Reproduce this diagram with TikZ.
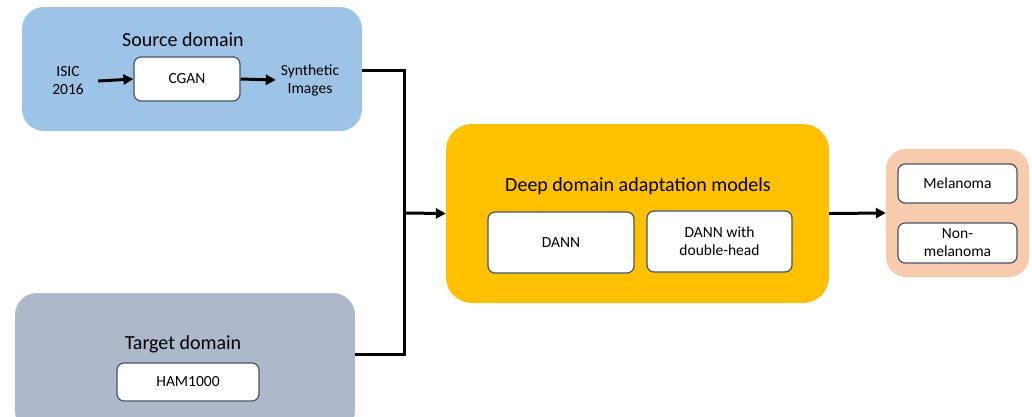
\documentclass[tikz,border=0pt]{standalone}
\usepackage{fontspec}
\setmainfont{Carlito}
\usetikzlibrary{arrows.meta}
\definecolor{srcblue}{HTML}{9DC3E6}
\definecolor{tgtgray}{HTML}{ADB9CA}
\definecolor{modelgold}{HTML}{FFC000}
\definecolor{outpeach}{HTML}{F8CBAD}
\definecolor{edgeslate}{HTML}{44546A}
\tikzset{
  panel/.style={rounded corners=22pt, draw=none, inner sep=0pt},
  inbox/.style={rounded corners=7pt, draw=edgeslate, line width=1.2pt, fill=white,
    align=center, inner sep=0pt, font=\fontsize{15.5}{18}\selectfont},
  title/.style={font=\fontsize{20}{24}\selectfont, inner sep=0pt},
  label/.style={align=center, inner sep=0pt, font=\fontsize{15.5}{18}\selectfont},
  flow/.style={line width=3pt, -{Triangle[length=10pt,width=10pt]}},
  wire/.style={line width=3pt}
}
\begin{document}
\begin{tikzpicture}[x=1pt,y=-1pt]
\useasboundingbox (0,0) rectangle (1032,416);
\clip (0,0) rectangle (1032,416);

% source domain
\node[panel, fill=srcblue, minimum width=340pt, minimum height=124pt] (src) at (192,69) {};
\node[title] (srct) at (183,40) {Source domain};
\node[inbox, minimum width=106pt, minimum height=44pt] (cgan) at (187,79) {CGAN};
\node[label, minimum width=60pt] (isic) at (68,81) {ISIC\\2016};
\node[label, minimum width=68pt] (syn) at (310,80) {Synthetic\\Images};
\draw[flow] (isic.east) -- (cgan.west);
\draw[flow] (cgan.east) -- (syn.west);

% target domain
\node[panel, fill=tgtgray, minimum width=340pt, minimum height=140pt] (tgt) at (185,363) {};
\node[title] (tgtt) at (183,344) {Target domain};
\node[inbox, minimum width=142pt, minimum height=38pt] (ham) at (188,382) {HAM1000};

% adaptation models
\node[panel, rounded corners=26pt, fill=modelgold, minimum width=383pt, minimum height=179pt] (dda) at (637.5,213.5) {};
\node[title] (ddat) at (638,186) {Deep domain adaptation models};
\node[inbox, minimum width=146pt, minimum height=61pt] (dann) at (561,242.5) {DANN};
\node[inbox, minimum width=145pt, minimum height=61pt] (dannh) at (719.5,241.5) {DANN with\\double-head};

% output classes
\node[panel, rounded corners=20pt, fill=outpeach, minimum width=143pt, minimum height=128pt] (out) at (957.5,213) {};
\node[inbox, minimum width=119pt, minimum height=39pt] (mel) at (957.5,183.5) {Melanoma};
\node[inbox, minimum width=119pt, minimum height=40pt] (nonmel) at (957.5,243) {Non-\\melanoma};

% connectors
\coordinate (join) at (404,213);
\draw[wire] ([yshift=-1pt]src.east) -| (join);
\draw[wire] ([yshift=9pt]tgt.east) -| (join);
\draw[flow] (join) -- (dda.west);
\draw[flow] (dda.east) -- (out.west);
\end{tikzpicture}
\end{document}
